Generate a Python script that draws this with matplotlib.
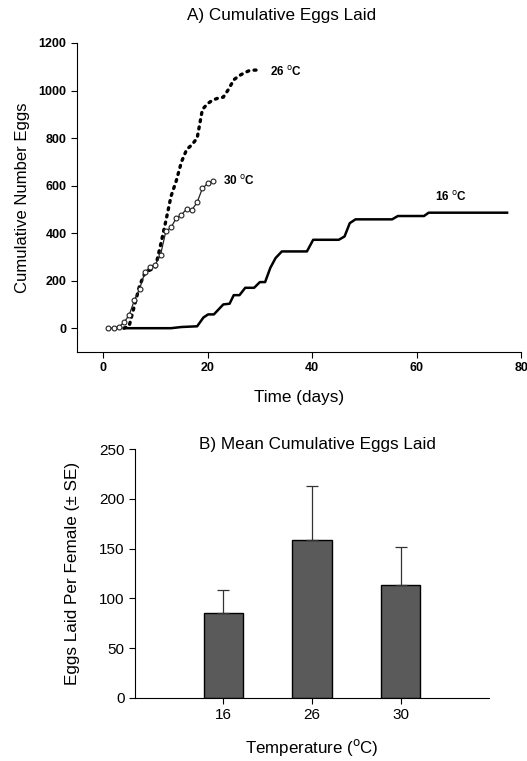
import matplotlib

matplotlib.use('Agg')

import matplotlib.pyplot as plt

plt.rcParams['font.family'] = ['Liberation Sans', 'DejaVu Sans']

# A) cumulative eggs laid, per temperature
days_16 = [4, 13, 15, 18, 19.2, 20.1, 21.2, 23.0, 24.2, 25.0, 26.1, 27.2, 28.9, 30.0, 31.0,
           32.0, 33.0, 34.2, 39.0, 40.2, 45.1, 46.2, 47.2, 48.3, 55.3, 56.4, 61.4, 62.3, 77.3]
eggs_16 = [0, 0, 5, 8, 45, 58, 58, 100, 103, 139, 139, 170, 170, 194, 194,
           254, 295, 323, 323, 372, 372, 386, 442, 458, 458, 472, 472, 486, 486]

days_26 = [4, 5, 6, 7, 8, 9, 10, 11, 12, 13, 14, 15, 16, 17, 18, 19, 20, 21,
           22, 23, 24, 25, 26, 27, 28, 29, 30]
eggs_26 = [0, 10, 95, 180, 232, 245, 255, 350, 450, 555, 620, 700, 752, 772, 800, 920, 945, 960,
           968, 972, 1005, 1045, 1062, 1074, 1084, 1086, 1086]

days_30 = [1, 2, 3, 4, 5, 6, 7, 8, 9, 10, 11, 12, 13, 14, 15, 16, 17, 18, 19, 20, 21]
eggs_30 = [0, 0, 5, 24, 56, 118, 166, 235, 258, 268, 309, 407, 424, 463, 477, 502, 498,
           530, 588, 609, 619]

# B) mean cumulative eggs per female
temps = ['16', '26', '30']
means = [85, 159, 113]
se = [23, 54, 39]

fig = plt.figure(figsize=(5.27, 7.61), dpi=100)

ax1 = fig.add_axes([0.146, 0.5375, 0.843, 0.406])
ax1.plot(days_16, eggs_16, color='black', lw=1.8)
ax1.plot(days_26, eggs_26, color='black', lw=2.4, linestyle=(0, (0.6, 1.6)),
         dash_capstyle='round')
ax1.plot(days_30, eggs_30, color='#222222', lw=0.9, marker='o', ms=3.5,
         mfc='white', mec='#222222', mew=0.8)
ax1.text(32, 1080, '26 $^\\mathrm{o}$C', fontsize=8.5, fontweight='bold', va='center')
ax1.text(23, 621, '30 $^\\mathrm{o}$C', fontsize=8.5, fontweight='bold', va='center')
ax1.text(63.5, 553, '16 $^\\mathrm{o}$C', fontsize=8.5, fontweight='bold', va='center')
ax1.set_xlim(-5, 80)
ax1.set_ylim(-100, 1200)
ax1.set_xticks([0, 20, 40, 60, 80])
ax1.set_yticks([0, 200, 400, 600, 800, 1000, 1200])
ax1.spines['top'].set_visible(False)
ax1.spines['right'].set_visible(False)
ax1.tick_params(direction='out', length=4, labelsize=9)
for lab in ax1.get_xticklabels() + ax1.get_yticklabels():
    lab.set_fontweight('bold')
ax1.set_xlabel('Time (days)', fontsize=12.3, labelpad=11)
ax1.set_ylabel('Cumulative Number Eggs', fontsize=12, labelpad=6)
fig.text(0.535, 0.979, 'A) Cumulative Eggs Laid', fontsize=12.3, ha='center', va='center')

ax2 = fig.add_axes([0.256, 0.0832, 0.672, 0.3264])
xpos = [1, 2, 3]
ax2.bar(xpos, means, width=0.45, color='#5a5a5a', edgecolor='black', lw=1,
        yerr=[[0, 0, 0], se], capsize=4, error_kw={'elinewidth': 0.9, 'capthick': 0.9,
                                                  'ecolor': '#333333'})
ax2.set_xlim(0, 4)
ax2.set_ylim(0, 250)
ax2.set_xticks(xpos)
ax2.set_xticklabels(temps)
ax2.set_yticks([0, 50, 100, 150, 200, 250])
ax2.spines['top'].set_visible(False)
ax2.spines['right'].set_visible(False)
ax2.tick_params(direction='out', length=4, labelsize=11)
ax2.set_xlabel('Temperature ($^\\mathrm{o}$C)', fontsize=12.2, labelpad=11)
ax2.set_ylabel('Eggs Laid Per Female (\u00b1 SE)', fontsize=12.3, labelpad=14)
fig.text(0.603, 0.416, 'B) Mean Cumulative Eggs Laid', fontsize=12.3, ha='center', va='center')

fig.savefig('out.png', dpi=100)
